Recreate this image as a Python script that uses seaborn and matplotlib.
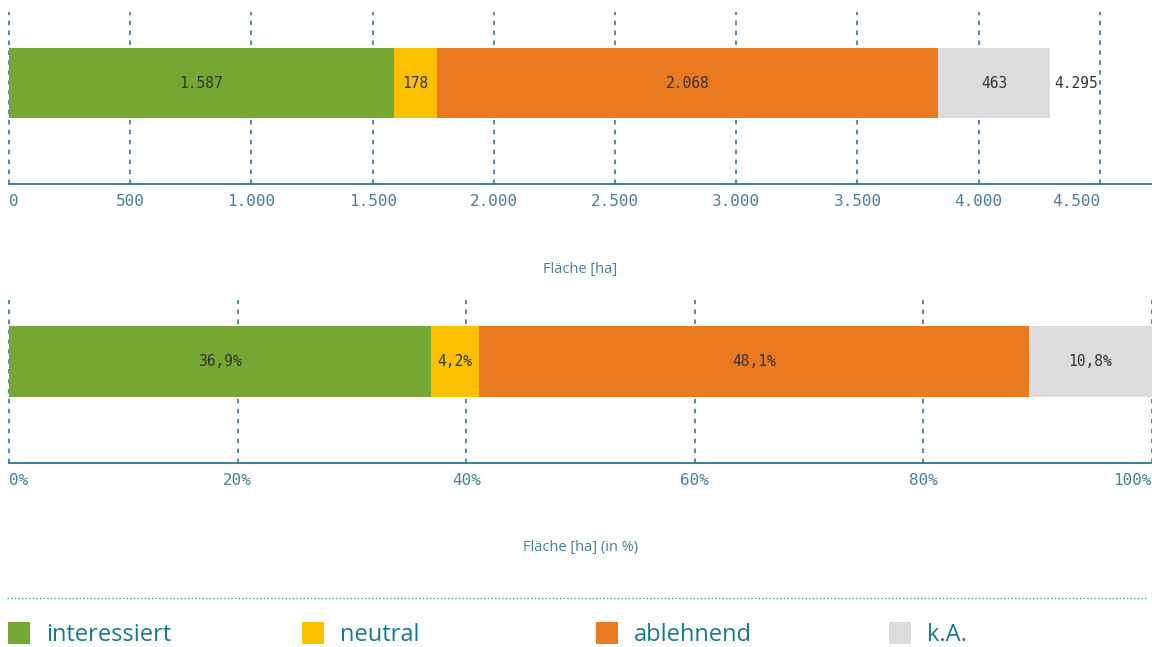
import matplotlib
matplotlib.use("Agg")
import matplotlib.pyplot as plt
from matplotlib.patches import Rectangle
from matplotlib.lines import Line2D
import seaborn as sns
import pandas as pd
import numpy as np

# ---- data ----
categories = ["interessiert", "neutral", "ablehnend", "k.A."]
area_ha = [1587, 178, 2068, 463]
area_total_ha = 4295
share_pct = [36.9, 4.2, 48.1, 10.8]
area_ticks = [0, 500, 1000, 1500, 2000, 2500, 3000, 3500, 4000, 4500]
area_tick_labels = ["0", "500", "1.000", "1.500", "2.000", "2.500", "3.000", "3.500", "4.000", "4.500"]
pct_ticks = [0, 20, 40, 60, 80, 100]
pct_tick_labels = ["0%", "20%", "40%", "60%", "80%", "100%"]
area_labels = ["1.587", "178", "2.068", "463"]
area_total_label = "4.295"
pct_labels = ["36,9%", "4,2%", "48,1%", "10,8%"]

colors = ["#76A733", "#FBC100", "#E97A20", "#DCDCDE"]
AXIS_COL = "#4A7F98"
LEG_COL = "#17798B"
TXT_COL = "#333333"
MONO = "DejaVu Sans Mono"
SANS = "Open Sans"

sns.set_theme(style="white")
plt.rcParams["font.family"] = [SANS, "DejaVu Sans"]

W, H = 1152, 647
fig = plt.figure(figsize=(W / 100, H / 100), dpi=100)


def fig_axes(left_px, top_px, right_px, bottom_px):
    return fig.add_axes([left_px / W, 1 - bottom_px / H,
                         (right_px - left_px) / W, (bottom_px - top_px) / H])


def stacked(ax, values, labels, xmax, ticks, tick_labels, xlabel,
            bar_frac, top_off, span):
    cum = np.cumsum(values)
    for i in reversed(range(len(values))):
        df = pd.DataFrame({"row": [""], "val": [cum[i]]})
        sns.barplot(data=df, x="val", y="row", orient="h", color=colors[i],
                    saturation=1, width=bar_frac, ax=ax, zorder=3,
                    edgecolor="none", linewidth=0)
    starts = cum - np.array(values)
    for s, v, lab in zip(starts, values, labels):
        ax.text(s + v / 2, 0, lab, ha="center", va="center",
                fontsize=10.5, family=MONO, color=TXT_COL, zorder=5)
    ax.set_xlim(0, xmax)
    ax.set_ylim((span - top_off) / span, -top_off / span)
    ax.set_yticks([])
    ax.set_ylabel("")
    ax.set_xticks(ticks, tick_labels)
    for j, t in enumerate(ax.get_xticklabels()):
        t.set_family(MONO)
        if j == 0:
            t.set_ha("left")
        elif j == len(ticks) - 1:
            t.set_ha("right")
    ax.tick_params(axis="x", length=0, pad=7, labelsize=11.5, labelcolor=AXIS_COL)
    ax.set_axisbelow(True)
    ax.xaxis.grid(True, linestyle=(0, (2.5, 3)), color=AXIS_COL, linewidth=1.3)
    for gl in ax.xaxis.get_gridlines():
        gl.set_clip_on(False)
    ax.yaxis.grid(False)
    for sp in ["top", "left", "right"]:
        ax.spines[sp].set_visible(False)
    ax.spines["bottom"].set_color(AXIS_COL)
    ax.spines["bottom"].set_linewidth(1.5)
    ax.set_xlabel(xlabel, fontsize=10.5, color=AXIS_COL, labelpad=38, family=SANS)
    ax.set_facecolor("none")
    return cum


# top chart (absolute area)
ax1 = fig_axes(9, 12, 1152, 184)
cum1 = stacked(ax1, area_ha, area_labels, 4715, area_ticks, area_tick_labels,
               "Fläche [ha]", 70 / 172, 71, 172)
ax1.annotate(area_total_label, xy=(cum1[-1], 0), xytext=(3, 0),
             textcoords="offset points", ha="left", va="center",
             fontsize=10.5, family=MONO, color=TXT_COL, zorder=5)

# bottom chart (percent)
ax2 = fig_axes(9, 300, 1152, 463)
stacked(ax2, share_pct, pct_labels, 100, pct_ticks, pct_tick_labels,
        "Fläche [ha] (in %)", 71 / 163, 61.5, 163)

# separator
fig.add_artist(Line2D([7 / W, 1147 / W], [1 - 598 / H, 1 - 598 / H],
                      linestyle=(0, (1, 1.6)), color="#3A9DB0", linewidth=1))

# legend
leg_x = [8, 302, 596, 889]
for x, c, name in zip(leg_x, colors, categories):
    fig.add_artist(Rectangle((x / W, 1 - 644 / H), 22 / W, 22 / H,
                             transform=fig.transFigure, facecolor=c,
                             edgecolor="none"))
    fig.text((x + 38) / W, 1 - 635 / H, name, ha="left", va="center",
             fontsize=17, color=LEG_COL, family=SANS)

fig.savefig("out.png", dpi=100)
